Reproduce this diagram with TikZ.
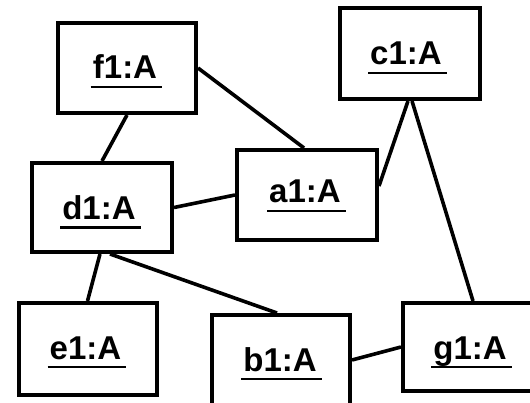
\documentclass[tikz,border=0pt]{standalone}
\usepackage{fontspec}
\setmainfont{Liberation Sans}
\begin{document}
\begin{tikzpicture}[x=1pt,y=-1pt,
  objbox/.style={draw=black,line width=4pt,minimum width=138pt,minimum height=90pt,inner sep=0pt},
  objname/.style={anchor=base,inner sep=0pt,font=\fontsize{33}{38}\selectfont\bfseries},
  uline/.style={line width=2.8pt},
  link/.style={line width=3.6pt}]
\useasboundingbox (0,0) rectangle (530,403);
\clip (0,0) rectangle (530,403);
% object boxes
\node[objbox] (f1) at (127,68) {};
\node[objbox,minimum width=140pt,minimum height=91pt] (c1) at (410,53.5) {};
\node[objbox,minimum width=140pt,minimum height=89pt] (d1) at (102,207.5) {};
\node[objbox,minimum width=140pt] (a1) at (307,195) {};
\node[objbox,minimum height=92pt] (e1) at (87.5,349) {};
\node[objbox] (b1) at (281,360) {};
\node[objbox,minimum width=140pt,minimum height=88pt] (g1) at (473,347) {};
% object names, underlined
\foreach \n/\t/\dx/\dy in {f1/f1:A/-2/11, c1/c1:A/-4/11.5, d1/d1:A/-3/12, a1/a1:A/-2/8,
                           e1/e1:A/-2/10, b1/b1:A/-1/11, g1/g1:A/-3/12}{
  \node[objname] (\n t) at ([xshift=\dx pt,yshift=-\dy pt]\n.center) {\t};
  \draw[uline] ([xshift=-2pt,yshift=-8pt]\n t.base west) -- ([xshift=5pt,yshift=-8pt]\n t.base east);
}
% links
\draw[link] (f1.south) -- (d1.north);
\draw[link] (f1.east) -- ([xshift=-3pt]a1.north);
\draw[link] (d1.east) -- (a1.west);
\draw[link] ([xshift=-2pt]c1.south) -- ([yshift=9pt]a1.east);
\draw[link] ([xshift=2pt]c1.south) -- (g1.north);
\draw[link] ([xshift=-2pt]d1.south) -- (e1.north);
\draw[link] ([xshift=8pt]d1.south) -- ([xshift=-4pt]b1.north);
\draw[link] (b1.east) -- (g1.west);
\end{tikzpicture}
\end{document}
